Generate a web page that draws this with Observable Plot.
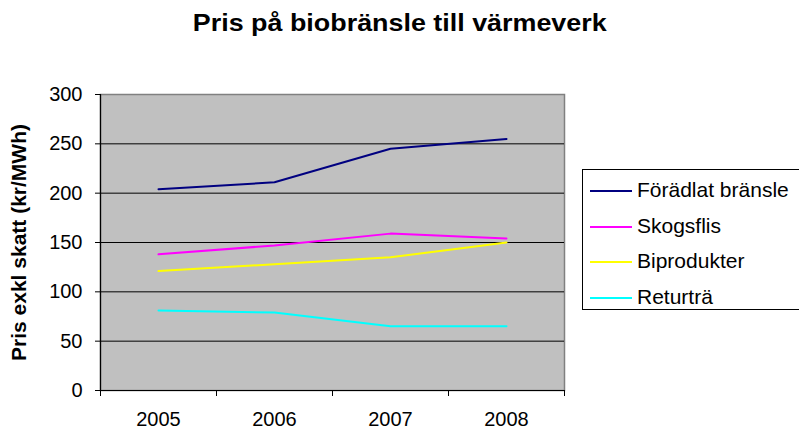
<!DOCTYPE html>
<html>
<head>
<meta charset="utf-8">
<script src="https://cdn.jsdelivr.net/npm/d3@7"></script>
<script src="https://cdn.jsdelivr.net/npm/@observablehq/plot@0.6"></script>
<style>
  html, body { margin: 0; padding: 0; background: #fff; }
  #wrap { position: relative; width: 799px; height: 433px; overflow: hidden; font-family: "Liberation Sans", Arial, sans-serif; }
  #title { position: absolute; left: 0; width: 799px; top: 11px; text-align: center; font-weight: bold; font-size: 24px; line-height: 24px; }
  #title span { display: inline-block; transform: scaleX(1.12); transform-origin: center; }
  #ylabel { position: absolute; font-weight: bold; font-size: 21px; line-height: 21px; white-space: nowrap; transform: rotate(-90deg); transform-origin: center; }
  #legend { position: absolute; left: 582px; top: 169px; width: 230px; height: 141px; border: 1px solid #000; background: #fff; box-sizing: border-box; }
  .sw { position: absolute; height: 2px; width: 42px; }
  .lt { position: absolute; font-size: 21px; line-height: 21px; white-space: nowrap; }
</style>
</head>
<body>
<div id="wrap">
  <div id="chart"></div>
  <div id="title"><span></span></div>
  <div id="ylabel"></div>
  <div id="legend"></div>
</div>
<script>
const title = "Pris på biobränsle till värmeverk";
const yLabel = "Pris exkl skatt (kr/MWh)";
const years = [2005, 2006, 2007, 2008];
const seriesNames = ["Förädlat bränsle", "Skogsflis", "Biprodukter", "Returträ"];
const seriesColors = ["#000080", "#FF00FF", "#FFFF00", "#00FFFF"];
const foradlat = [204, 211, 245, 255];
const skogsflis = [138, 147, 159, 154];
const biprodukter = [121, 128, 135, 150];
const returtra = [81, 79, 65, 65];
const yTicks = [0, 50, 100, 150, 200, 250, 300];

const seriesValues = [foradlat, skogsflis, biprodukter, returtra];
const data = [];
seriesNames.forEach((s, i) => years.forEach((y, j) => data.push({series: s, year: y, value: seriesValues[i][j]})));
const bounds = [years[0] - 0.5, ...years.map(y => y + 0.5)];

const chart = Plot.plot({
  width: 799,
  height: 433,
  marginTop: 94,
  marginLeft: 100,
  marginRight: 235,
  marginBottom: 43,
  style: {fontFamily: "'Liberation Sans', Arial, sans-serif", fontSize: "20px", color: "black", background: "transparent", overflow: "visible"},
  x: {domain: [bounds[0], bounds[bounds.length - 1]]},
  y: {domain: [0, 300]},
  color: {domain: seriesNames, range: seriesColors},
  marks: [
    Plot.frame({fill: "#C0C0C0", stroke: "#808080", strokeWidth: 1.5}),
    Plot.ruleY(yTicks.filter(d => d > 0 && d < 300), {stroke: "#000", strokeWidth: 1}),
    Plot.line(data, {x: "year", y: "value", z: "series", stroke: "series", strokeWidth: 2}),
    Plot.ruleX([bounds[0]], {stroke: "#000", strokeWidth: 1.2}),
    Plot.ruleY([0], {stroke: "#000", strokeWidth: 1.2}),
    Plot.axisY({ticks: yTicks, tickSize: 5, tickPadding: 13, label: null, stroke: "#000"}),
    Plot.axisX({ticks: bounds, tickSize: 6, tickFormat: () => "", label: null, stroke: "#000"}),
    Plot.axisX({ticks: years, tickSize: 0, tickPadding: 21, tickFormat: d => String(d), label: null})
  ]
});
document.getElementById("chart").appendChild(chart);

document.querySelector("#title span").textContent = title;

// y label position
const yl = document.getElementById("ylabel");
yl.textContent = yLabel;
const w = yl.offsetWidth, h = yl.offsetHeight;
const cx = 18, cy = 242;
yl.style.left = (cx - w / 2) + "px";
yl.style.top = (cy - h / 2) + "px";

// legend
const leg = document.getElementById("legend");
seriesNames.forEach((s, i) => {
  const c = 190 + 35.5 * i - 169;
  const sw = document.createElement("div");
  sw.className = "sw";
  sw.style.left = (590 - 583) + "px";
  sw.style.top = (c - 1) + "px";
  sw.style.background = seriesColors[i];
  leg.appendChild(sw);
  const t = document.createElement("div");
  t.className = "lt";
  t.style.left = (637 - 583) + "px";
  t.style.top = (c - 12) + "px";
  t.textContent = s;
  leg.appendChild(t);
});
</script>
</body>
</html>
